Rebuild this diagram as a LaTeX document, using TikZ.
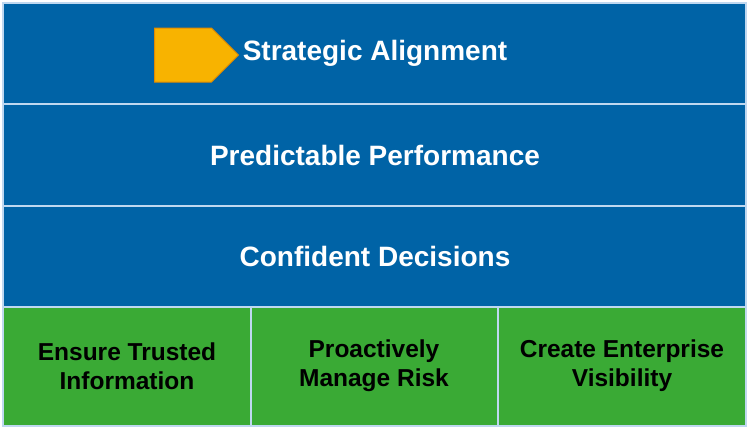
\documentclass[tikz,border=0pt]{standalone}
\usepackage{fontspec}
\setmainfont{Liberation Sans}
\usetikzlibrary{shapes.arrows}
\definecolor{bl}{HTML}{0063A6}
\definecolor{gr}{HTML}{3AAA35}
\definecolor{ln}{HTML}{BFD8F0}
\definecolor{gold}{HTML}{F8B300}
\definecolor{gedge}{HTML}{E08A00}
\begin{document}
\begin{tikzpicture}[x=1pt,y=-1pt,
  cell/.style={draw=ln,line width=1.2pt},
  big/.style={text=white,font=\fontsize{28}{32}\selectfont\bfseries},
  small/.style={text=black,font=\fontsize{24.5}{29}\selectfont\bfseries,align=center}]
\useasboundingbox (0,0) rectangle (750,429);
\fill[white] (0,0) rectangle (750,429);
\draw[cell,fill=bl] (3,3) rectangle (746,104);
\draw[cell,fill=bl] (3,104) rectangle (746,206);
\draw[cell,fill=bl] (3,206) rectangle (746,307);
\draw[cell,fill=gr] (3,307) rectangle (251,426);
\draw[cell,fill=gr] (251,307) rectangle (498,426);
\draw[cell,fill=gr] (498,307) rectangle (746,426);
\node[big] (t1) at (375,53) {Strategic Alignment};
\node[big] (t2) at (375,155) {Predictable Performance};
\node[big] (t3) at (375,256) {Confident Decisions};
\node[small] (b1) at (127,366) {Ensure Trusted\\Information};
\node[small] (b2) at (374,366) {Proactively\\Manage Risk};
\node[small] (b3) at (622,366) {Create Enterprise\\Visibility};
\node[single arrow,fill=gold,draw=gedge,line width=1pt,minimum height=84pt,minimum width=54pt,single arrow head extend=0pt,inner sep=0pt,single arrow tip angle=90] (arr) at (183,55) {};
\end{tikzpicture}
\end{document}
